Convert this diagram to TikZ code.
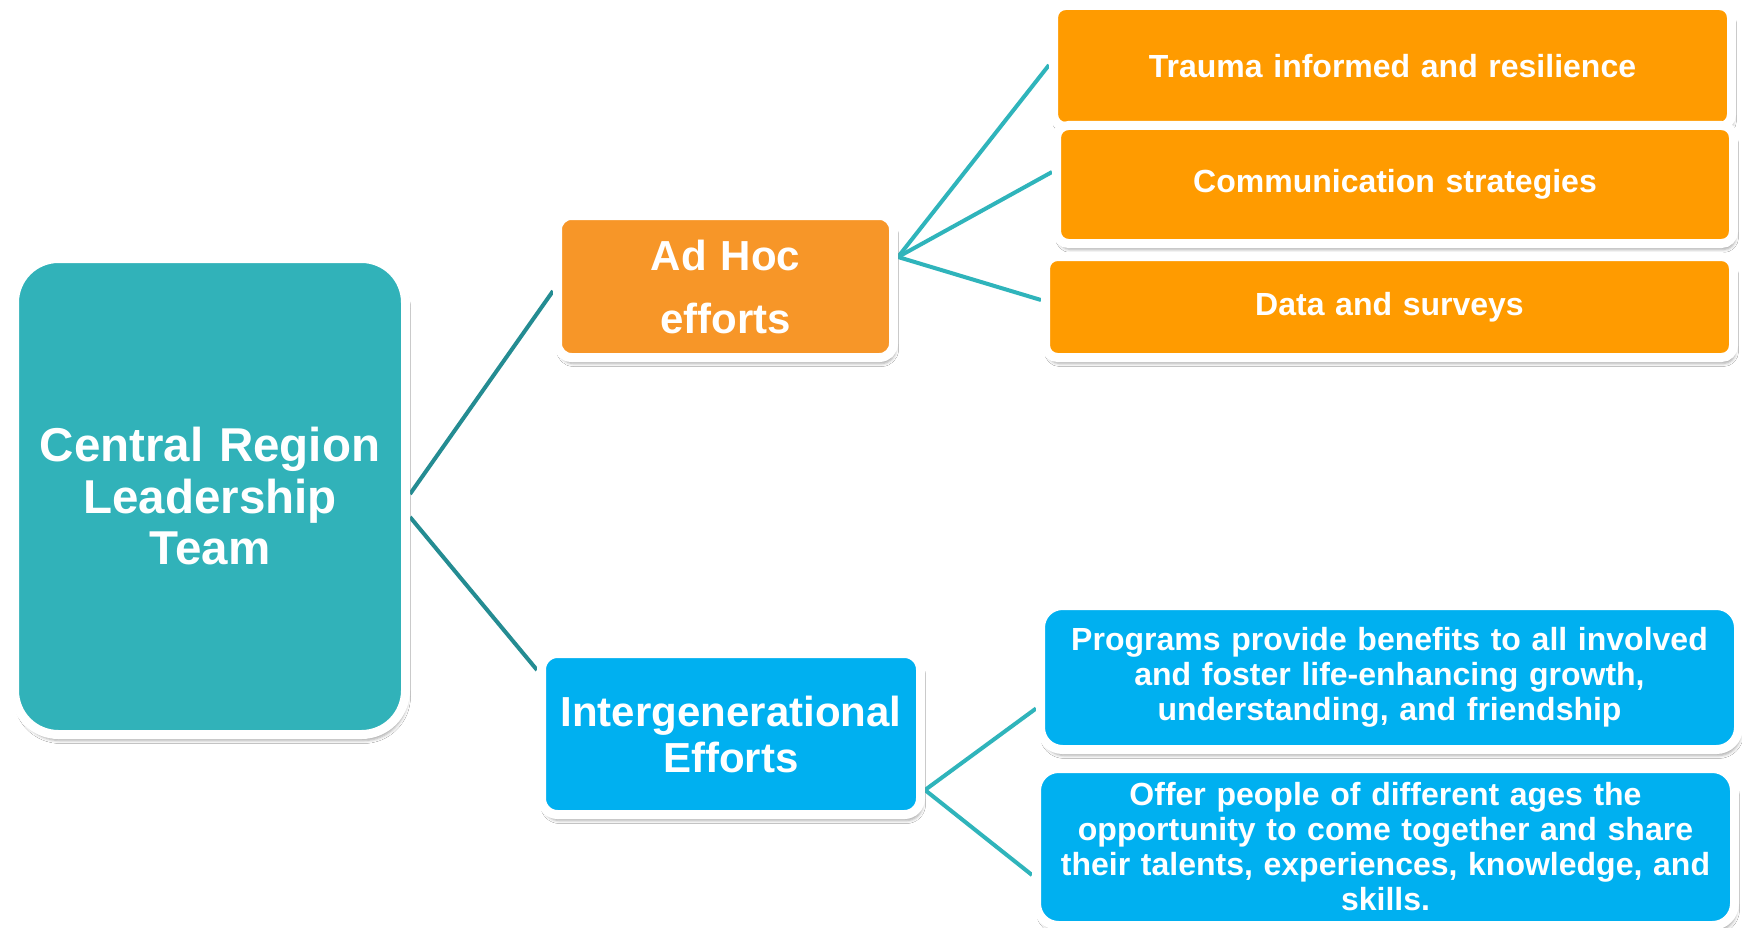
\documentclass[tikz,border=0pt]{standalone}
\usepackage{fontspec}
\setmainfont{Liberation Sans}
\usetikzlibrary{calc,shadows.blur,backgrounds}

\definecolor{r49g178b185}{RGB}{49,178,185}
\definecolor{r247g150b40}{RGB}{247,150,40}
\definecolor{r255g155b0}{RGB}{255,155,0}
\definecolor{r0g176b240}{RGB}{0,176,240}
\definecolor{r36g140b146}{RGB}{36,140,146}
\definecolor{r47g180b187}{RGB}{47,180,187}

\tikzset{
  card/.style={draw=white, line width=9pt, inner sep=0pt, align=center, text=white,
    blur shadow={shadow xshift=2pt, shadow yshift=-6pt, shadow blur radius=3pt, shadow opacity=35}},
  bigtext/.style={font={\fontsize{47.5}{51.5}\selectfont\bfseries}},
  midtext/.style={font={\fontsize{42}{#1}\selectfont\bfseries}},
  smalltext/.style={font={\fontsize{32}{35}\selectfont\bfseries}},
  trunk/.style={line width=4pt, draw=r36g140b146},
  twig/.style={line width=4pt, draw=r47g180b187},
}

\begin{document}
\begin{tikzpicture}[x=1pt,y=-1pt]
\useasboundingbox (0,0) rectangle (1742,928);

% Drawing leadership box
\node [card, bigtext, fill=r49g178b185, rounded corners=44pt, minimum width=391pt, minimum height=476pt, text width=380pt] (lead) at (210,496.5) {Central Region\\Leadership\\Team};

% Drawing group boxes
\node [card, midtext=63, fill=r247g150b40, rounded corners=14pt, minimum width=336pt, minimum height=142pt, text width=320pt] (adhoc) at (725.5,286.5) {Ad Hoc\\efforts};
\node [card, midtext=46, fill=r0g176b240, rounded corners=16pt, minimum width=379pt, minimum height=161pt, text width=370pt] (interg) at (731,734) {Intergenerational\\Efforts};

% Drawing ad hoc items
\node [card, smalltext, fill=r255g155b0, rounded corners=12pt, minimum width=678pt, minimum height=121pt, text width=660pt] (trauma) at (1392.5,66) {Trauma informed and resilience};
\node [card, smalltext, fill=r255g155b0, rounded corners=12pt, minimum width=677pt, minimum height=118pt, text width=660pt] (comm) at (1395,184.5) {Communication strategies};
\node [card, smalltext, fill=r255g155b0, rounded corners=12pt, minimum width=688pt, minimum height=101pt, text width=660pt] (data) at (1389.5,307) {Data and surveys};

% Drawing intergenerational items
\node [card, smalltext, fill=r0g176b240, rounded corners=22pt, minimum width=698pt, minimum height=144pt, text width=680pt] (programs) at (1389.5,677.5) {Programs provide benefits to all involved\\and foster life-enhancing growth,\\understanding, and friendship};
\node [card, smalltext, fill=r0g176b240, rounded corners=22pt, minimum width=698pt, minimum height=157pt, text width=680pt] (offer) at (1385.5,847) {Offer people of different ages the\\opportunity to come together and share\\their talents, experiences, knowledge, and\\skills.};

% Drawing connectors
\begin{scope}[on background layer]
\fill [white] (0,0) rectangle (1742,928);
\coordinate (adhocport) at ($(adhoc.east)+(0,-29.5)$);
\coordinate (intergport) at ($(interg.east)+(0,56)$);
\draw [trunk] ($(lead.east)+(0,-2.5)$) -- ($(adhoc.west)+(0,4.5)$);
\draw [trunk] ($(lead.east)+(0,20.5)$) -- ($(interg.west)+(0,-64)$);
\draw [twig] (adhocport) -- ($(trauma.west)+(0,-1)$);
\draw [twig] (adhocport) -- ($(comm.west)+(0,-12.5)$);
\draw [twig] (adhocport) -- ($(data.west)+(0,-7)$);
\draw [twig] (intergport) -- ($(programs.west)+(0,31)$);
\draw [twig] (intergport) -- ($(offer.west)+(0,28)$);
\end{scope}
\end{tikzpicture}
\end{document}
